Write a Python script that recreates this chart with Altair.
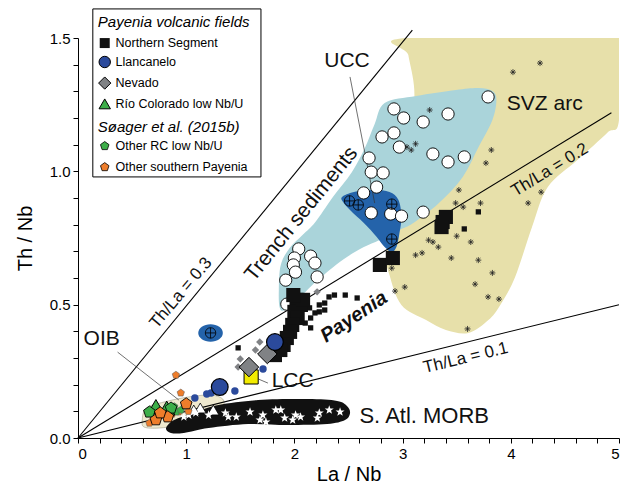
import altair as alt
import pandas as pd

FONT = "Liberation Sans"

# ---------------- field outlines (La/Nb, Th/Nb) ----------------
svz_x = [3.035, 5.0, 5.0, 4.89, 4.616, 4.342, 4.196, 4.04, 3.903, 3.793, 3.61, 3.40, 3.217, 2.989, 2.879, 2.852, 2.943, 3.08, 3.108, 3.053]
svz_y = [1.5, 1.5, 1.1925, 1.144, 1.0425, 0.941, 0.791, 0.604, 0.499, 0.4425, 0.394, 0.405, 0.4425, 0.499, 0.611, 0.694, 0.8925, 1.155, 1.305, 1.436]

trench_x = [2.834, 3.126, 3.492, 3.702, 3.830, 3.867, 3.830, 3.702, 3.556, 3.336, 3.099, 2.971, 2.788, 2.642, 2.486, 2.349, 2.166, 2.029, 1.920, 1.865, 1.856, 1.874, 1.956, 2.075, 2.194, 2.349, 2.532, 2.651, 2.742]
trench_y = [1.256, 1.2825, 1.305, 1.3125, 1.301, 1.2675, 1.1925, 1.091, 0.979, 0.881, 0.806, 0.78, 0.7425, 0.716, 0.679, 0.6375, 0.574, 0.5175, 0.48, 0.4875, 0.555, 0.649, 0.7125, 0.761, 0.81, 0.9, 0.9975, 1.0875, 1.1775]

ucc_field_x = [2.441, 2.550, 2.733, 2.879, 2.962, 2.989, 2.971, 2.943, 2.898, 2.834, 2.761, 2.642, 2.514, 2.45]
ucc_field_y = [0.904, 0.9225, 0.93, 0.9225, 0.8925, 0.829, 0.769, 0.716, 0.6975, 0.716, 0.754, 0.806, 0.855, 0.885]

morb_field_x = [0.8135, 0.887, 1.069, 1.298, 1.664, 2.121, 2.395, 2.486, 2.514, 2.468, 2.303, 1.938, 1.572, 1.207, 0.978, 0.859]
morb_field_y = [0.0375, 0.0675, 0.094, 0.124, 0.1425, 0.146, 0.139, 0.12, 0.094, 0.0675, 0.0525, 0.049, 0.0525, 0.0375, 0.019, 0.019]

oib_field_x = [0.594, 0.631, 0.795, 1.024, 1.234, 1.344, 1.316, 1.115, 0.932, 0.75, 0.612]
oib_field_y = [0.0675, 0.1125, 0.135, 0.154, 0.161, 0.1425, 0.105, 0.079, 0.049, 0.0375, 0.041]

# ---------------- reference lines ----------------
ref_slopes = [0.495, 0.2474, 0.1]
ref_xend = [3.09, 4.93, 5.0]

# ---------------- samples ----------------
trench_px = [2.92, 3.01, 3.19, 3.42, 3.79, 2.81, 2.92, 2.97, 3.28, 3.42, 3.57, 2.69, 2.71, 2.82, 2.76, 2.64, 2.71, 2.89, 2.99, 3.19, 2.04, 2.15, 2.00, 1.99, 2.19, 2.01, 1.92, 2.21, 1.93]
trench_py = [1.234, 1.200, 1.185, 1.215, 1.279, 1.129, 1.144, 1.091, 1.065, 1.035, 1.054, 1.050, 0.997, 0.994, 0.941, 0.919, 0.844, 0.840, 0.832, 0.847, 0.709, 0.682, 0.675, 0.649, 0.656, 0.622, 0.592, 0.604, 0.502]

ucc_px = [2.51, 2.59, 2.90, 2.90, 1.225]
ucc_py = [0.889, 0.874, 0.877, 0.746, 0.394]

svz_px = [4.02, 4.27, 3.25, 3.04, 3.08, 3.12, 3.82, 3.77, 3.52, 3.49, 3.56, 3.72, 4.28, 4.16, 3.63, 3.24, 3.28, 3.33, 3.12, 3.18, 3.45, 3.70, 3.83, 3.67, 3.79, 3.89, 3.60, 2.93, 3.02, 2.90, 3.50]
svz_py = [1.372, 1.406, 1.230, 1.091, 1.080, 1.103, 1.080, 1.031, 0.930, 0.881, 0.866, 0.881, 0.922, 0.881, 0.735, 0.742, 0.735, 0.716, 0.686, 0.694, 0.675, 0.667, 0.619, 0.577, 0.529, 0.521, 0.409, 0.551, 0.566, 0.637, 0.757]

ns_big_x = [2.79, 2.91, 3.37, 3.40, 3.36, 2.02, 2.06, 2.00, 2.03, 1.98, 1.96, 1.93, 1.90, 1.87, 1.82, 2.08, 1.99]
ns_big_y = [0.649, 0.675, 0.810, 0.829, 0.791, 0.518, 0.499, 0.473, 0.450, 0.424, 0.398, 0.375, 0.349, 0.330, 0.311, 0.518, 0.536]
ns_small_x = [3.70, 3.57, 1.48, 2.14, 2.19, 2.15, 2.10, 2.15, 2.23, 2.28, 2.23, 2.28, 2.32, 2.37, 2.47, 2.58]
ns_small_y = [0.848, 0.784, 0.338, 0.488, 0.469, 0.450, 0.431, 0.413, 0.499, 0.506, 0.473, 0.480, 0.529, 0.536, 0.536, 0.525]

ll_big_x = [1.82, 1.31]
ll_big_y = [0.360, 0.191]
ll_small_x = [1.71, 1.45, 1.23, 1.19, 1.08]
ll_small_y = [0.259, 0.176, 0.169, 0.165, 0.150]

nev_big_x = [1.75, 1.58]
nev_big_y = [0.315, 0.266]
nev_small_x = [1.50, 1.48, 1.64, 1.68, 2.21]
nev_small_y = [0.296, 0.266, 0.330, 0.360, 0.548]

rc_x = [0.72, 0.82]
rc_y = [0.118, 0.112]

orc_big_x = [0.66, 0.86]
orc_big_y = [0.097, 0.112]
orc_small_x = [0.89, 0.91, 0.95]
orc_small_y = [0.118, 0.098, 0.105]

osp_big_x = [1.00, 0.72, 0.83, 0.76]
osp_big_y = [0.128, 0.068, 0.079, 0.094]
osp_small_x = [0.905, 0.95, 0.66, 0.93, 0.87, 1.02]
osp_small_y = [0.236, 0.169, 0.056, 0.098, 0.090, 0.100]

oib_px = [1.25, 1.13, 1.07]
oib_py = [0.105, 0.1125, 0.105]

morb_px = [0.978, 1.024, 1.088, 1.207, 1.362, 1.389, 1.463, 1.590, 1.682, 1.737, 1.709, 1.828, 1.874, 1.910, 1.984, 2.011, 2.057, 2.230, 2.322, 2.422, 2.212]
morb_py = [0.079, 0.086, 0.094, 0.086, 0.094, 0.079, 0.079, 0.0975, 0.0675, 0.060, 0.086, 0.105, 0.105, 0.075, 0.0675, 0.086, 0.079, 0.094, 0.105, 0.0975, 0.075]

lcc_x = [1.60]
lcc_y = [0.229]

# ---------------- text labels ----------------
lab_text = ["UCC", "SVZ arc", "OIB", "LCC", "S. Atl. MORB"]
lab_x = [2.486, 4.314, 0.219, 1.984, 3.20]
lab_y = [1.414, 1.252, 0.371, 0.214, 0.0825]
lab_size = [21, 21, 21, 21, 22]

rot_text = ["Th/La = 0.3", "Th/La = 0.2", "Th/La = 0.1", "Trench sediments"]
rot_x = [0.951, 4.36, 3.583, 2.066]
rot_y = [0.544, 1.005, 0.300, 0.84]
rot_angle = [310, 328.5, 346.3, 309]

leader_x = [2.514, 0.366, 1.645]
leader_y = [1.354, 0.322, 0.225]
leader_x2 = [2.742, 0.932, 1.755]
leader_y2 = [0.881, 0.1425, 0.206]

# legend
leg_labels = ["Northern Segment", "Llancanelo", "Nevado", "Río Colorado low Nb/U", "Other RC low Nb/U", "Other southern Payenia"]
leg_rows_y = [1.481, 1.410, 1.331, 1.253, 1.095, 1.016]
leg_titles = ["Payenia volcanic fields", "Søager et al. (2015b)"]
leg_titles_y = [1.560, 1.166]

# ---------------- encodings ----------------
x_ticks = [round(i * 0.2, 1) for i in range(26)]
y_ticks = [round(i * 0.1, 1) for i in range(16)]

XS = alt.Scale(domain=[0, 5], nice=False, zero=False)
YS = alt.Scale(domain=[0, 1.5], nice=False, zero=False)

x_axis = alt.Axis(
    values=x_ticks, orient="bottom",
    labelExpr="abs(datum.value - round(datum.value)) < 0.001 ? format(datum.value, 'd') : ''",
    tickSize=5, grid=False, labelOverlap=False, labelFont=FONT, labelFontSize=15, labelColor="black",
    titleFont=FONT, titleFontSize=20, titleFontWeight="normal", titleColor="black",
    domainColor="black", tickColor="black", labelPadding=3, titlePadding=3,
)
y_axis = alt.Axis(
    values=y_ticks, orient="left",
    labelExpr="abs(datum.value * 2 - round(datum.value * 2)) < 0.001 ? format(datum.value, '.1f') : ''",
    tickSize=5, grid=False, labelOverlap=False, labelFont=FONT, labelFontSize=15, labelColor="black",
    titleFont=FONT, titleFontSize=20, titleFontWeight="normal", titleColor="black",
    domainColor="black", tickColor="black", labelPadding=3, titlePadding=14,
)


def X():
    return alt.X("x:Q", scale=XS, axis=x_axis, title="La / Nb")


def Y():
    return alt.Y("y:Q", scale=YS, axis=y_axis, title="Th / Nb")


def poly(xs, ys, fill, stroke=None, sw=0):
    df = pd.DataFrame({"x": xs, "y": ys, "i": list(range(len(xs)))})
    kw = dict(filled=True, fill=fill, interpolate="cardinal-closed", clip=True)
    if stroke:
        kw.update(stroke=stroke, strokeWidth=sw)
    else:
        kw.update(strokeWidth=0)
    return alt.Chart(df).mark_line(**kw).encode(x=X(), y=Y(), order="i:Q")


def pts(xs, ys, shape, size, fill=None, stroke=None, sw=1.0):
    df = pd.DataFrame({"x": xs, "y": ys})
    kw = dict(shape=shape, size=size, opacity=1, clip=False)
    if fill:
        kw.update(filled=True, fill=fill, fillOpacity=1)
    else:
        kw.update(filled=False)
    if stroke:
        kw.update(stroke=stroke, strokeWidth=sw, strokeOpacity=1)
    else:
        kw.update(strokeWidth=0)
    return alt.Chart(df).mark_point(**kw).encode(x=X(), y=Y())


CIRCLE_PLUS = "M1,0A1,1,0,1,1,-1,0A1,1,0,1,1,1,0Z M-1,0L1,0 M0,-1L0,1"
ASTER = "M-1,0L1,0 M0,-1L0,1 M-0.7,-0.7L0.7,0.7 M-0.7,0.7L0.7,-0.7"
PENTA = "M0,-1L0.951,-0.309L0.588,0.809L-0.588,0.809L-0.951,-0.309Z"
ELLIPSE = "M1.2,0A1.2,0.85,0,1,1,-1.2,0A1.2,0.85,0,1,1,1.2,0Z"
STAR = "M0,-1L0.235,-0.324L0.951,-0.309L0.38,0.124L0.588,0.809L0,0.4L-0.588,0.809L-0.38,0.124L-0.951,-0.309L-0.235,-0.324Z"

BLUE_UCC = "#2463AA"
BLUE_LL = "#2B4A9C"
GREY = "#808285"
GREEN = "#3DAE49"
ORANGE = "#EE7D2B"

layers = []
layers.append(poly(svz_x, svz_y, "#E7E0AA"))
layers.append(poly(trench_x, trench_y, "#AAD4DA"))
layers.append(poly(ucc_field_x, ucc_field_y, BLUE_UCC))
layers.append(poly(oib_field_x, oib_field_y, "#EFE9CF", stroke="#A09C88", sw=0.6))
layers.append(poly(morb_field_x, morb_field_y, "#111111"))

# reference lines
ref_df = pd.DataFrame({"x": [0, 0, 0], "y": [0, 0, 0], "x2": ref_xend,
                       "y2": [s * e for s, e in zip(ref_slopes, ref_xend)]})
layers.append(alt.Chart(ref_df).mark_rule(color="black", strokeWidth=1.1, clip=False).encode(
    x=X(), y=Y(), x2="x2:Q", y2="y2:Q"))

# leader lines
lead_df = pd.DataFrame({"x": leader_x, "y": leader_y, "x2": leader_x2, "y2": leader_y2})
layers.append(alt.Chart(lead_df).mark_rule(color="#333333", strokeWidth=0.7).encode(
    x=X(), y=Y(), x2="x2:Q", y2="y2:Q"))

# samples
layers.append(pts(svz_px, svz_py, ASTER, 36, stroke="#222222", sw=0.8))
layers.append(pts(trench_px, trench_py, "circle", 150, "white", stroke="black", sw=0.9))
layers.append(pts([ucc_px[-1]], [ucc_py[-1]], ELLIPSE, 420, BLUE_UCC))
layers.append(pts(ucc_px, ucc_py, CIRCLE_PLUS, 110, stroke="black", sw=0.8))
layers.append(pts(oib_px, oib_py, "triangle-up", 130, "white", stroke="black", sw=0.8))
layers.append(pts(morb_px, morb_py, STAR, 90, "white"))
layers.append(pts(ns_small_x, ns_small_y, "square", 28, "#111111"))
layers.append(pts(ns_big_x, ns_big_y, "square", 200, "#111111"))
layers.append(pts(nev_small_x, nev_small_y, "diamond", 55, GREY))
layers.append(pts(lcc_x, lcc_y, "square", 200, "#F3EC00", stroke="black", sw=1))
layers.append(pts(nev_big_x, nev_big_y, "diamond", 380, GREY, stroke="black", sw=1))
layers.append(pts(ll_small_x, ll_small_y, "circle", 55, BLUE_LL))
layers.append(pts(ll_big_x, ll_big_y, "circle", 280, BLUE_LL, stroke="black", sw=1.2))
layers.append(pts(osp_small_x, osp_small_y, PENTA, 60, ORANGE, stroke="#555555", sw=0.5))
layers.append(pts(orc_small_x, orc_small_y, PENTA, 60, GREEN, stroke="#555555", sw=0.5))
layers.append(pts(rc_x, rc_y, "triangle-up", 260, GREEN, stroke="black", sw=1))
layers.append(pts(orc_big_x, orc_big_y, PENTA, 150, GREEN, stroke="black", sw=0.9))
layers.append(pts(osp_big_x, osp_big_y, PENTA, 150, ORANGE, stroke="black", sw=0.9))

# labels
lab_df = pd.DataFrame({"x": lab_x, "y": lab_y, "t": lab_text, "s": lab_size})
layers.append(alt.Chart(lab_df).mark_text(font=FONT, color="#111111", align="center",
                                          baseline="middle").encode(
    x=X(), y=Y(), text="t:N", size=alt.Size("s:Q", scale=None)))
for t, xx, yy, a in zip(rot_text, rot_x, rot_y, rot_angle):
    d = pd.DataFrame({"x": [xx], "y": [yy], "t": [t]})
    layers.append(alt.Chart(d).mark_text(font=FONT, fontSize=21 if t.startswith("Trench") else 17,
                                         angle=a, color="#111111", align="center",
                                         baseline="middle").encode(x=X(), y=Y(), text="t:N"))
pay_df = pd.DataFrame({"x": [2.55], "y": [0.454], "t": ["Payenia"]})
layers.append(alt.Chart(pay_df).mark_text(font=FONT, fontSize=20, fontWeight="bold", fontStyle="italic",
                                          angle=326, color="#111111", align="center",
                                          baseline="middle").encode(x=X(), y=Y(), text="t:N"))

# legend box
box_df = pd.DataFrame({"x": [0.137], "y": [1.609], "x2": [1.691], "y2": [0.979]})
layers.append(alt.Chart(box_df).mark_rect(fill="white", stroke="black", strokeWidth=1, clip=False).encode(
    x=X(), y=Y(), x2="x2:Q", y2="y2:Q"))
lt_df = pd.DataFrame({"x": [0.183, 0.183], "y": leg_titles_y, "t": leg_titles})
layers.append(alt.Chart(lt_df).mark_text(font=FONT, fontSize=15, fontStyle="italic", color="black",
                                         align="left", baseline="middle").encode(x=X(), y=Y(), text="t:N"))
ll_df = pd.DataFrame({"x": [0.347] * 6, "y": leg_rows_y, "t": leg_labels})
layers.append(alt.Chart(ll_df).mark_text(font=FONT, fontSize=12.5, color="black",
                                         align="left", baseline="middle").encode(x=X(), y=Y(), text="t:N"))
sx = 0.247
layers.append(pts([sx], [leg_rows_y[0]], "square", 100, "#111111"))
layers.append(pts([sx], [leg_rows_y[1]], "circle", 130, BLUE_LL, stroke="black", sw=1))
layers.append(pts([sx], [leg_rows_y[2]], "diamond", 150, GREY, stroke="black", sw=1))
layers.append(pts([sx], [leg_rows_y[3]], "triangle-up", 130, GREEN, stroke="black", sw=1))
layers.append(pts([sx], [leg_rows_y[4]], PENTA, 80, GREEN, stroke="black", sw=0.8))
layers.append(pts([sx], [leg_rows_y[5]], PENTA, 80, ORANGE, stroke="black", sw=0.8))

chart = alt.layer(*layers).properties(
    width=541, height=400,
    autosize=alt.AutoSizeParams(type="none"),
    padding={"left": 70, "top": 30, "right": 3, "bottom": 48},
    background="white",
).configure_view(stroke=None)

chart.save("out.html", embed_options={"renderer": "svg", "actions": False})
